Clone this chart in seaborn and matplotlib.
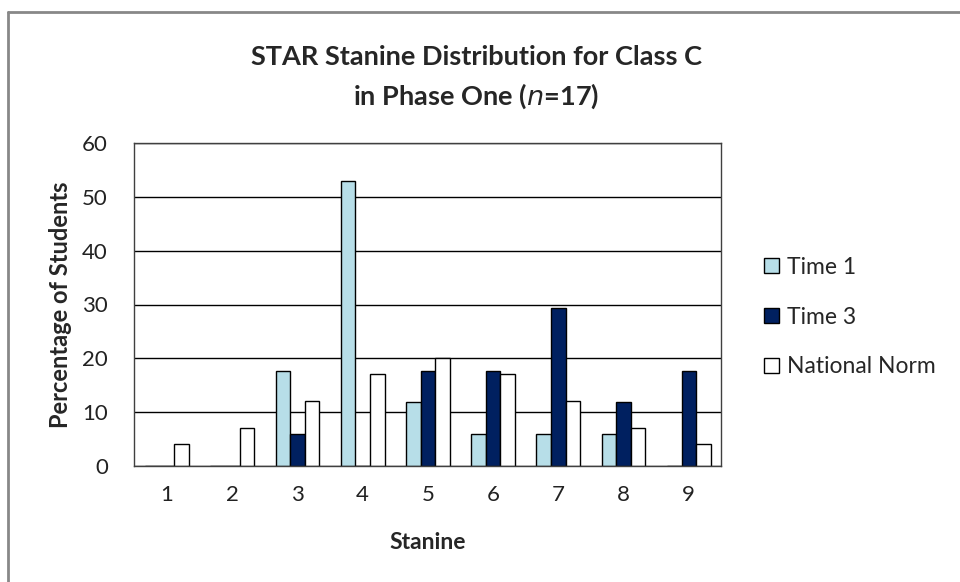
import numpy as np
import pandas as pd
import matplotlib
matplotlib.use('Agg')
import matplotlib.pyplot as plt
import seaborn as sns
from matplotlib.lines import Line2D

stanines = ['1', '2', '3', '4', '5', '6', '7', '8', '9']
time1 = [0, 0, 17.6, 52.9, 11.8, 5.9, 5.9, 5.9, 0]
time3 = [0, 0, 5.9, 0, 17.6, 17.6, 29.4, 11.8, 17.6]
national_norm = [4, 7, 12, 17, 20, 17, 12, 7, 4]
series = ['Time 1', 'Time 3', 'National Norm']
colors = ['#B7DEE8', '#002060', '#FFFFFF']

df = pd.DataFrame({'Stanine': stanines, 'Time 1': time1, 'Time 3': time3,
                   'National Norm': national_norm})
df = df.melt(id_vars='Stanine', var_name='Series', value_name='Percent')

sns.set_style('white')
plt.rcParams['font.family'] = ['Lato', 'DejaVu Sans']

fig = plt.figure(figsize=(9.6, 5.82), dpi=100)
ax = fig.add_axes([134.4 / 960, 1 - 466 / 582, 587 / 960, 323 / 582])

sns.barplot(data=df, x='Stanine', y='Percent', hue='Series', hue_order=series,
            palette=colors, width=0.67, edgecolor='black', linewidth=1.0,
            saturation=1, ax=ax)

ax.set_ylim(0, 60)
ax.set_yticks(range(0, 61, 10))
ax.yaxis.grid(True, color='black', linewidth=1.0)
ax.set_axisbelow(True)
for s in ax.spines.values():
    s.set_color('#404040')
    s.set_linewidth(1.0)
ax.tick_params(axis='both', length=0, labelsize=16, colors='#222222')
ax.tick_params(axis='x', pad=14)
ax.tick_params(axis='y', pad=19)
ax.set_xlabel('Stanine', fontsize=16.5, fontweight='bold')
ax.set_ylabel('Percentage of Students', fontsize=17, fontweight='bold')
ax.xaxis.set_label_coords(0.5, -0.204)
ax.yaxis.set_label_coords(-0.106, 0.5)

leg = ax.legend(loc='center left', bbox_to_anchor=(1.073, 0.461), frameon=False,
                borderaxespad=0, borderpad=0,
                fontsize=16.5, handlelength=0.63, handleheight=0.63, handletextpad=0.36,
                labelspacing=1.25)
for h in leg.legend_handles:
    h.set_edgecolor('black')
    h.set_linewidth(1.0)

fig.text(0.496, 1 - 57 / 582, 'STAR Stanine Distribution for Class C', ha='center',
         va='center', fontsize=19.5, fontweight='bold')
fig.text(0.496, 1 - 96 / 582, r'in Phase One ($\mathit{n}$=17)', ha='center',
         va='center', fontsize=19.5, fontweight='bold')

# outer chart frame (left and top edges visible)
fig.add_artist(Line2D([8 / 960, 8 / 960], [0, 1 - 12 / 582], color='#888888', linewidth=2))
fig.add_artist(Line2D([8 / 960, 1], [1 - 12 / 582, 1 - 12 / 582], color='#888888', linewidth=2))

fig.savefig('out.png', dpi=100)
